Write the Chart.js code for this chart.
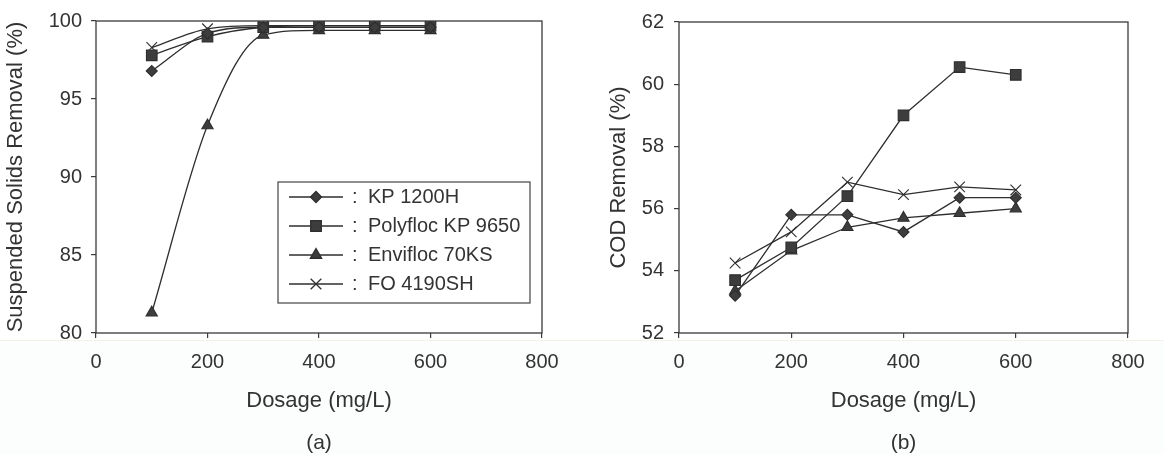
<!DOCTYPE html>
<html>
<head>
<meta charset="utf-8">
<title>Suspended solids and COD removal vs dosage</title>
<script src="https://cdn.jsdelivr.net/npm/chart.js@4.4.1/dist/chart.umd.min.js"></script>
<style>
  html, body { margin: 0; padding: 0; background: #fff; overflow: hidden; }
  #wrap { position: relative; width: 1164px; height: 454px; }
  #wrap canvas { position: absolute; top: 0; }
  #band { position: absolute; left: 0; top: 340px; width: 1164px; height: 114px;
          background: #fcfdfd; border-top: 1px solid #f4f2e6; }
</style>
</head>
<body>
<div id="wrap">
  <div id="band"></div>
  <canvas id="ssChart" width="582" height="454" style="left:0"></canvas>
  <canvas id="codChart" width="582" height="454" style="left:582px"></canvas>
</div>
<script>
// dosage in mg/L, removal in %
const dosage = [100, 200, 300, 400, 500, 600];

const ssKp1200h  = [96.8, 99.2, 99.6, 99.6, 99.6, 99.6];
const ssPolyfloc = [97.8, 99.0, 99.6, 99.7, 99.7, 99.7];
const ssEnvifloc = [81.3, 93.3, 99.1, 99.4, 99.4, 99.4];
const ssFo4190   = [98.3, 99.5, 99.7, 99.7, 99.7, 99.7];

const codKp1200h  = [53.2, 55.8, 55.8, 55.25, 56.35, 56.35];
const codPolyfloc = [53.7, 54.75, 56.4, 59.0, 60.55, 60.3];
const codEnvifloc = [53.35, 54.65, 55.4, 55.7, 55.85, 56.0];
const codFo4190   = [54.25, 55.25, 56.85, 56.45, 56.7, 56.6];

const seriesNames = ["KP 1200H", "Polyfloc KP 9650", "Envifloc 70KS", "FO 4190SH"];
const xTicks = { min: 0, max: 800, step: 200 };

const FONT = "'Liberation Sans', Arial, sans-serif";
const INK = "#333";
Chart.defaults.font.family = FONT;
Chart.defaults.color = INK;

// marker per product: diamond, square, triangle, x
const markers = [
  { style: "rectRot", radius: 5.5 },
  { style: "rect", radius: 7.5 },
  { style: "triangle", radius: 6.5 },
  { style: "crossRot", radius: 7.5 }
];

function makeSeries(values, smooth) {
  return values.map((vals, i) => ({
    label: seriesNames[i],
    data: dosage.map((x, j) => ({ x: x, y: vals[j] })),
    borderColor: "#2e2e2e",
    borderWidth: 1.3,
    pointStyle: markers[i].style,
    pointRadius: markers[i].radius,
    pointBackgroundColor: "#3d3d3d",
    pointBorderColor: "#2e2e2e",
    pointBorderWidth: 1.1,
    cubicInterpolationMode: smooth ? "monotone" : "default",
    tension: 0,
    fill: false
  }));
}

// box around the plot area
const framePlugin = {
  id: "frame",
  beforeDatasetsDraw(chart) {
    const { ctx, chartArea: a } = chart;
    ctx.save();
    ctx.strokeStyle = "#3a3a3a";
    ctx.lineWidth = 1.3;
    ctx.strokeRect(a.left, a.top, a.right - a.left, a.bottom - a.top);
    ctx.restore();
  }
};

// "(a)" / "(b)" under the axis title
const captionPlugin = {
  id: "caption",
  afterDraw(chart, args, opts) {
    const { ctx, chartArea: a } = chart;
    ctx.save();
    ctx.font = "21px " + FONT;
    ctx.fillStyle = INK;
    ctx.textAlign = "center";
    ctx.textBaseline = "middle";
    ctx.fillText(opts.text, (a.left + a.right) / 2, opts.y);
    ctx.restore();
  }
};

// legend in a box: line + marker, then ": name"
const boxLegend = {
  id: "boxLegend",
  afterDatasetsDraw(chart, args, opts) {
    if (!opts.display) return;
    const ctx = chart.ctx;
    ctx.save();
    ctx.fillStyle = "#fff";
    ctx.fillRect(opts.x, opts.y, opts.w, opts.h);
    ctx.strokeStyle = "#444";
    ctx.lineWidth = 1.2;
    ctx.strokeRect(opts.x, opts.y, opts.w, opts.h);
    chart.data.datasets.forEach((ds, i) => {
      const y = opts.y + opts.firstRow + i * opts.rowH;
      ctx.strokeStyle = ds.borderColor;
      ctx.lineWidth = ds.borderWidth;
      ctx.beginPath();
      ctx.moveTo(opts.x + 11, y);
      ctx.lineTo(opts.x + 65, y);
      ctx.stroke();
      ctx.fillStyle = ds.pointBackgroundColor;
      ctx.strokeStyle = ds.pointBorderColor;
      Chart.helpers.drawPoint(ctx, {
        pointStyle: ds.pointStyle,
        radius: ds.pointRadius,
        borderWidth: ds.pointBorderWidth,
        rotation: 0
      }, opts.x + 38, y);
      ctx.fillStyle = INK;
      ctx.font = "20px " + FONT;
      ctx.textAlign = "left";
      ctx.textBaseline = "middle";
      ctx.fillText(":", opts.x + 74, y);
      ctx.fillText(ds.label, opts.x + 90, y);
    });
    ctx.restore();
  }
};

function tickGrid() {
  return { drawOnChartArea: false, drawTicks: true, tickLength: 5, color: "#3a3a3a", lineWidth: 1.2 };
}

function makeChart(id, datasets, cfg) {
  return new Chart(document.getElementById(id), {
    type: "line",
    data: { datasets: datasets },
    options: {
      responsive: false,
      animation: false,
      devicePixelRatio: 1,
      layout: { padding: { left: 0, top: cfg.top, right: cfg.right, bottom: 0 } },
      scales: {
        x: {
          type: "linear",
          min: xTicks.min,
          max: xTicks.max,
          ticks: { stepSize: xTicks.step, padding: 12, color: INK, font: { size: 20 } },
          grid: tickGrid(),
          border: { display: false },
          title: { display: true, text: "Dosage (mg/L)", color: INK, font: { size: 22 },
                   padding: { top: 0, bottom: 40 } },
          afterFit(s) { s.height = 121; }
        },
        y: {
          min: cfg.yMin,
          max: cfg.yMax,
          ticks: { stepSize: cfg.yStep, padding: cfg.tickPad, color: INK, font: { size: 20 } },
          grid: tickGrid(),
          border: { display: false },
          title: { display: true, text: cfg.yTitle, color: INK, font: { size: 22 },
                   padding: { top: cfg.titlePad, bottom: 0 } },
          afterFit(s) { s.width = cfg.yWidth; }
        }
      },
      plugins: {
        legend: { display: false },
        tooltip: { enabled: false },
        caption: { text: cfg.caption, y: 443 },
        boxLegend: cfg.legend || { display: false }
      }
    },
    plugins: [framePlugin, captionPlugin, boxLegend]
  });
}

makeChart("ssChart",
  makeSeries([ssKp1200h, ssPolyfloc, ssEnvifloc, ssFo4190], true),
  {
    top: 17, right: 40, yWidth: 96, tickPad: 9, titlePad: 3,
    yMin: 80, yMax: 100, yStep: 5,
    yTitle: "Suspended Solids Removal (%)",
    caption: "(a)",
    legend: { display: true, x: 278, y: 182, w: 252, h: 121, firstRow: 15, rowH: 29 }
  });

makeChart("codChart",
  makeSeries([codKp1200h, codPolyfloc, codEnvifloc, codFo4190], false),
  {
    top: 19, right: 36, yWidth: 97, tickPad: 10, titlePad: 24,
    yMin: 52, yMax: 62, yStep: 2,
    yTitle: "COD Removal (%)",
    caption: "(b)"
  });
</script>
</body>
</html>
